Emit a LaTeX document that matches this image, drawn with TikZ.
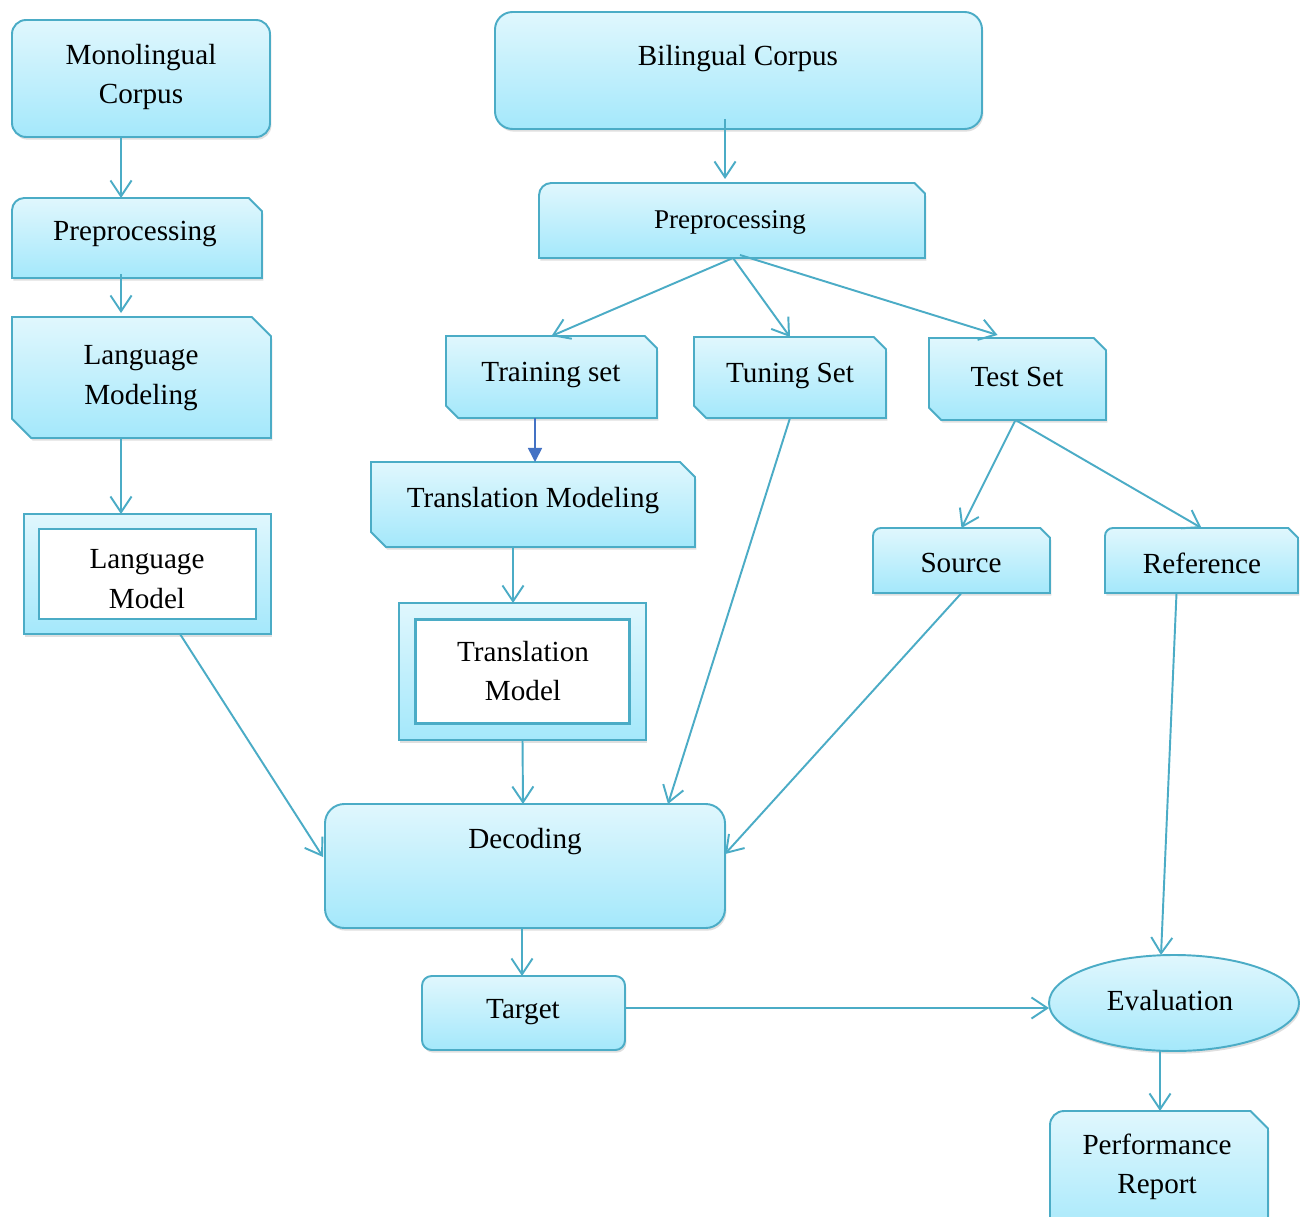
\documentclass[tikz,border=0pt]{standalone}
\usepackage{fontspec}
\setmainfont{Liberation Serif}
\usetikzlibrary{arrows.meta,calc,shadows,shapes.geometric}
\definecolor{cTop}{RGB}{224,247,253}
\definecolor{cBot}{RGB}{164,232,251}
\definecolor{bd}{RGB}{75,172,198}
\definecolor{darkar}{RGB}{68,114,196}
\newcommand{\shRR}[2]{\path[shp, rounded corners=#2] (#1.north west) rectangle (#1.south east);}
\newcommand{\shRS}[3]{\path[shp] (#1.south west) -- ([yshift=-#2]#1.north west) arc[start angle=180,end angle=90,radius=#2] -- ([xshift=-#3]#1.north east) -- ([yshift=-#3]#1.north east) -- (#1.south east) -- cycle;}
\newcommand{\shDS}[2]{\path[shp] (#1.north west) -- ([xshift=-#2]#1.north east) -- ([yshift=-#2]#1.north east) -- (#1.south east) -- ([xshift=#2]#1.south west) -- ([yshift=#2]#1.south west) -- cycle;}
\newcommand{\shDB}[2]{\path[shp] (#1.north west) rectangle (#1.south east); \path[draw=bd, line width=1.6pt, fill=white] ([shift={(#2,-#2)}]#1.north west) rectangle ([shift={(-#2,#2)}]#1.south east);}
\begin{document}
\begin{tikzpicture}[x=0.02cm,y=-0.02cm,
  bx/.style 2 args={minimum width=#1*0.02cm, minimum height=#2*0.02cm, inner sep=0pt, outer sep=0pt},
  shp/.style={draw=bd, line width=1.1pt, top color=cTop, bottom color=cBot, drop shadow={opacity=0.25, shadow xshift=0.8pt, shadow yshift=-1.5pt}},
  txt/.style={font=\fontsize{16.6}{22.4}\selectfont, align=center, inner sep=0pt},
  conn/.style={draw=bd, line width=1.1pt, -{Straight Barb[length=9pt,width=12pt,line width=1.1pt]}},
]
\path[use as bounding box, fill=white] (0,0) rectangle (1300,1216);
\clip (0,0) rectangle (1300,1216);

% box nodes
\node[bx={258}{117}] (mono) at (141,78.5) {};
\node[bx={487}{117}] (bi) at (738.5,70.5) {};
\node[bx={250}{80}] (preL) at (137,238) {};
\node[bx={386}{75}] (preR) at (732,220.5) {};
\node[bx={259}{121}] (lmod) at (141.5,377.5) {};
\node[bx={211}{82}] (train) at (551.5,377) {};
\node[bx={192}{81}] (tune) at (790,377.5) {};
\node[bx={177}{82}] (test) at (1017.5,379) {};
\node[bx={324}{85}] (tmod) at (533,504.5) {};
\node[bx={247}{120}] (lm) at (147.5,574) {};
\node[bx={247}{137}] (tm) at (522.5,671.5) {};
\node[bx={177}{65}] (src) at (961.5,560.5) {};
\node[bx={193}{65}] (ref) at (1201.5,560.5) {};
\node[bx={400}{124}] (dec) at (525,866) {};
\node[bx={203}{74}] (tgt) at (523.5,1013) {};
\node[bx={218}{130}] (perf) at (1159,1176) {};

% shapes
\shRR{mono}{8pt}
\shRR{bi}{10pt}
\shRS{preL}{7pt}{7.5pt}
\shRS{preR}{7pt}{6pt}
\shDS{lmod}{11pt}
\shDS{train}{7pt}
\shDS{tune}{7pt}
\shDS{test}{7pt}
\shDS{tmod}{8.5pt}
\shDB{lm}{8.5pt}
\shDB{tm}{9.6pt}
\shRS{src}{4.5pt}{5.5pt}
\shRS{ref}{4.5pt}{5.5pt}
\shRR{dec}{11pt}
\shRR{tgt}{5.5pt}
\shRS{perf}{8pt}{10pt}
\node[ellipse, shp, bx={250}{96}, txt] (eval) at (1174,1003) {};

% connectors
\draw[conn] ($(mono.south)+(-20,0)$) -- ($(preL.north)+(-16,0)$);
\draw[conn] ($(preL.south)+(-16,-4)$) -- ($(lmod.north)+(-20.5,-4)$);
\draw[conn] ($(lmod.south)+(-20.5,0)$) -- ($(lm.north)+(-26.5,0)$);
\draw[conn] ($(lm.south)+(32.5,0)$) -- ($(dec.west)+(-2,-9)$);
\draw[conn] ($(bi.south)+(-13.5,-10)$) -- ($(preR.north)+(-7,-4)$);
\draw[conn] ($(preR.south)+(1,0)$) -- (train.north);
\draw[conn] ($(preR.south)+(1,0)$) -- (tune.north);
\draw[conn] ($(preR.south)+(8,-3)$) -- ($(test.north)+(-20,-3)$);
\draw[draw=darkar, fill=darkar, line width=0.9pt, -{Triangle[length=8pt,width=8pt]}] ($(train.south)+(-16.5,0)$) -- ($(tmod.north)+(2,0)$);
\draw[conn] ($(tmod.south)+(-20,0)$) -- ($(tm.north)+(-9.5,0)$);
\draw[conn] (tm.south) -- ($(dec.north)+(-2,0)$);
\draw[conn] (tune.south) -- ($(dec.north)+(143,0)$);
\draw[conn] (src.south) -- ($(dec.east)+(0,-12)$);
\draw[conn] ($(test.south)+(-2,0)$) -- (src.north);
\draw[conn] ($(test.south)+(-2,0)$) -- (ref.north);
\draw[conn] ($(ref.south)+(-25,0)$) -- ($(eval.north)+(-13,0)$);
\draw[conn] ($(dec.south)+(-3,0)$) -- ($(tgt.north)+(-1.5,0)$);
\draw[conn] ($(tgt.east)+(0,-5)$) -- ($(eval.west)+(0,5)$);
\draw[conn] ($(eval.south)+(-14,0)$) -- ($(perf.north)+(1,0)$);

% texts
\node[txt] (t-mono) at (141,77) {Monolingual\\Corpus};
\node[txt] (t-bi) at (738,59) {Bilingual Corpus};
\node[txt] (t-preL) at (135,234) {Preprocessing};
\node[txt, font=\fontsize{15.4}{20}\selectfont] (t-preR) at (730,222) {Preprocessing};
\node[txt] (t-lmod) at (141,378) {Language\\Modeling};
\node[txt] (t-train) at (551,375) {Training set};
\node[txt] (t-tune) at (790,376) {Tuning Set};
\node[txt] (t-test) at (1017,377) {Test Set};
\node[txt] (t-tmod) at (533,501) {Translation Modeling};
\node[txt] (t-lm) at (147,579) {Language\\Model};
\node[txt] (t-tm) at (523,671) {Translation\\Model};
\node[txt] (t-src) at (961,563) {Source};
\node[txt] (t-ref) at (1202,563) {Reference};
\node[txt] (t-dec) at (525,842) {Decoding};
\node[txt] (t-tgt) at (523,1012) {Target};
\node[txt] (t-eval) at (1170,1001) {Evaluation};
\node[txt] (t-perf) at (1157,1167) {Performance\\Report};
\end{tikzpicture}
\end{document}
